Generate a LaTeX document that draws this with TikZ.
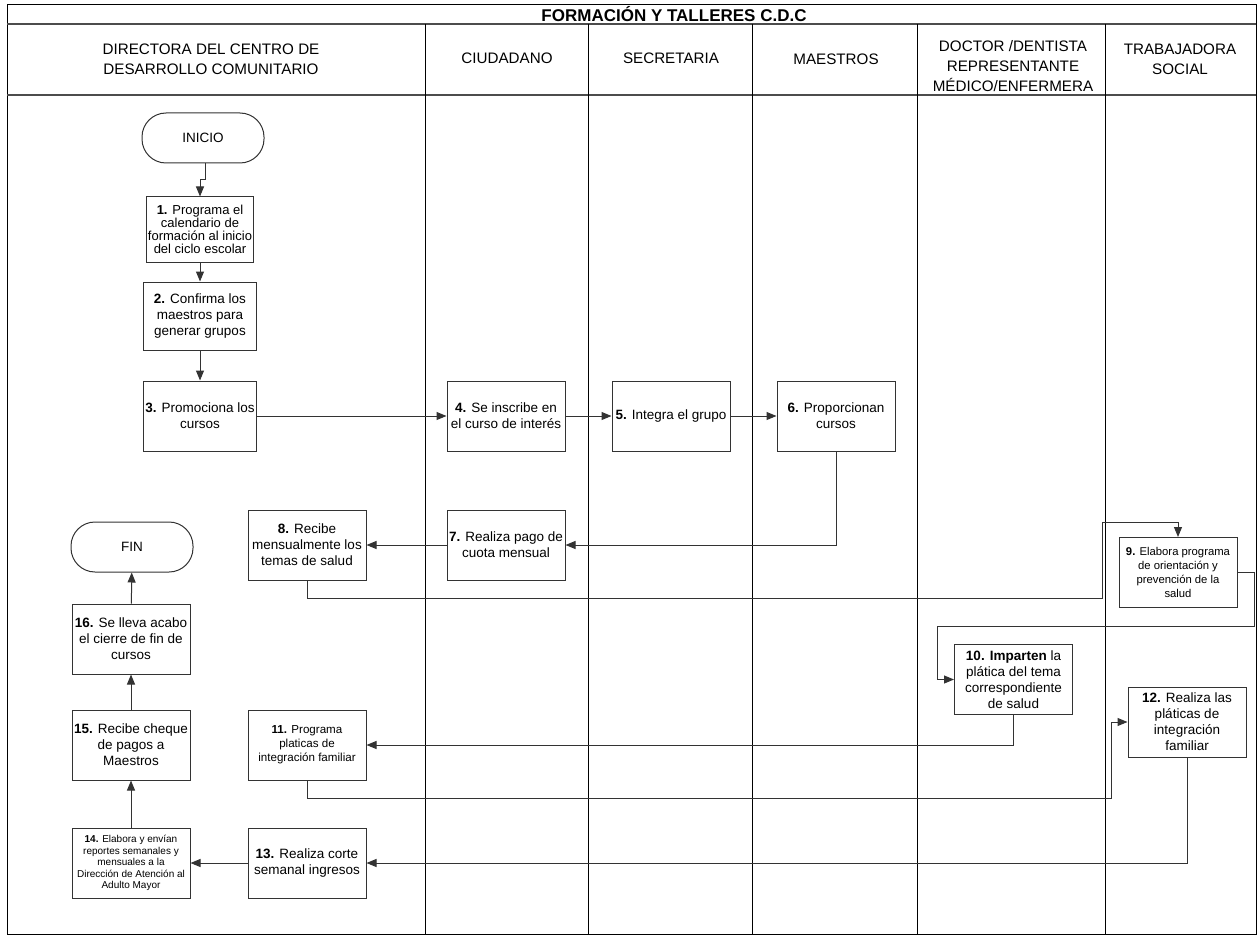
\documentclass[tikz,border=0pt]{standalone}
\usepackage{fontspec}
\setmainfont{Liberation Sans}
\usetikzlibrary{arrows.meta}

\tikzset{
    paso/.style={draw=black!80, rectangle, minimum width=118, minimum height=70, inner sep=1pt, align=center, font=\fontsize{13.5}{16}\selectfont},
    terminal/.style={draw=black!80, rectangle, rounded corners=24, minimum width=122, minimum height=50, align=center, font=\fontsize{13.5}{16}\selectfont},
    carril/.style={align=center, inner sep=0pt, font=\fontsize{15.2}{20}\selectfont},
    flecha/.style={draw=black!80, -{Triangle[length=10pt,width=8pt]}}
}

\begin{document}
\begin{tikzpicture}[x=1pt, y=-1pt, line width=1pt]
        \useasboundingbox (0,0) rectangle (1258,936);
        \draw (7,5) rectangle (1256,934);
        \draw[black!70, line width=1.4pt] (7,24) -- (1256,24);
        \draw[black!70, line width=1.6pt] (7,95) -- (1256,95);
        \foreach \x in {425,588,752,917,1105}
            \draw (\x,24) -- (\x,934);

        \node[font=\bfseries\fontsize{17}{18}\selectfont] (titulo) at (674,14.5) {FORMACIÓN Y TALLERES C.D.C};
        \node[carril] (directora) at (211,59) {DIRECTORA DEL CENTRO DE\\DESARROLLO COMUNITARIO};
        \node[carril] (ciudadano) at (507,58) {CIUDADANO};
        \node[carril] (secretaria) at (671,58) {SECRETARIA};
        \node[carril] (maestros) at (836,59) {MAESTROS};
        \node[carril] (doctor) at (1013,66) {DOCTOR /DENTISTA\\REPRESENTANTE\\MÉDICO/ENFERMERA};
        \node[carril] (trabajadora) at (1180,59) {TRABAJADORA\\SOCIAL};

        \node[terminal] (ini) at (203,138) {INICIO};
        \node[paso, minimum width=107, minimum height=65, font=\fontsize{13}{12.8}\selectfont] (n1) at (200,229.5) {\textbf{1.} Programa el\\calendario de\\formación al inicio\\del ciclo escolar};
        \node[paso, minimum width=113, minimum height=68] (n2) at (200,316) {\textbf{2.} Confirma los\\maestros para\\generar grupos};
        \node[paso, minimum width=113] (n3) at (200,416) {\textbf{3.} Promociona los\\cursos};
        \node[paso] (n4) at (506,416) {\textbf{4.} Se inscribe en\\el curso de interés};
        \node[paso] (n5) at (671,416) {\textbf{5.} Integra el grupo};
        \node[paso] (n6) at (836,416) {\textbf{6.} Proporcionan\\cursos};
        \node[paso] (n7) at (506,545) {\textbf{7.} Realiza pago de\\cuota mensual};
        \node[paso] (n8) at (307,545) {\textbf{8.} Recibe\\mensualmente los\\temas de salud};
        \node[terminal] (fin) at (132,547) {FIN};
        \node[paso, font=\fontsize{11.3}{14}\selectfont] (n9) at (1178,572.5) {\textbf{9.} Elabora programa\\de orientación y\\prevención de la\\salud};
        \node[paso] (n10) at (1013.5,679.5) {\textbf{10. Imparten} la\\plática del tema\\correspondiente\\de salud};
        \node[paso, font=\fontsize{11.6}{14}\selectfont] (n11) at (307,745) {\textbf{11.} Programa\\platicas de\\integración familiar};
        \node[paso] (n12) at (1187,722) {\textbf{12.} Realiza las\\pláticas de\\integración\\familiar};
        \node[paso] (n13) at (307,863) {\textbf{13.} Realiza corte\\semanal ingresos};
        \node[paso, font=\fontsize{10}{11.5}\selectfont] (n14) at (131,863) {\textbf{14.} Elabora y envían\\reportes semanales y\\mensuales a la\\Dirección de Atención al\\Adulto Mayor};
        \node[paso] (n15) at (131,745) {\textbf{15.} Recibe cheque\\de pagos a\\Maestros};
        \node[paso] (n16) at (131,639) {\textbf{16.} Se lleva acabo\\el cierre de fin de\\cursos};

        \draw[flecha] ([xshift=2]ini.south) -- ++(0,16) -| (n1.north);
        \draw[flecha] (n1) -- (n2);
        \draw[flecha] (n2) -- (n3);
        \draw[flecha] (n3) -- (n4);
        \draw[flecha] (n4) -- (n5);
        \draw[flecha] (n5) -- (n6);
        \draw[flecha] (n6.south) |- (n7.east);
        \draw[flecha] (n7) -- (n8);
        \draw[flecha] (n8.south) -- ++(0,18) -| (1102,522) -| (n9.north);
        \draw[flecha] (n9.east) -- ++(17,0) |- (937,626) |- (n10.west);
        \draw[flecha] (n10.south) |- (n11.east);
        \draw[flecha] (n11.south) -- ++(0,18) -| (1111,722) -- (n12.west);
        \draw[flecha] (n12.south) |- (n13.east);
        \draw[flecha] (n13) -- (n14);
        \draw[flecha] (n14) -- (n15);
        \draw[flecha] (n15) -- (n16);
        \draw[flecha] (n16) -- (fin);
\end{tikzpicture}
\end{document}
